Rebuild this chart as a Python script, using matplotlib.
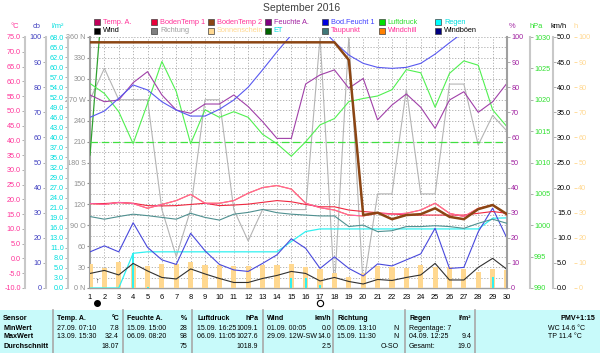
import numpy as np
import matplotlib
matplotlib.use('Agg')
import matplotlib.pyplot as plt
from matplotlib.patches import Rectangle
from matplotlib.lines import Line2D
from matplotlib.transforms import blended_transform_factory

plt.rcParams['font.family'] = ['Liberation Sans', 'DejaVu Sans']

# ---- data (daily values, September 2016) ----
days = list(range(1, 31))

temp_a = [18.6, 18.3, 19.0, 18.6, 17.0, 18.3, 19.6, 21.7, 18.7, 18.7, 19.6, 22.1, 24.0, 24.7, 23.5,
          18.7, 17.2, 16.4, 14.7, 14.4, 15.3, 15.0, 15.3, 16.4, 18.7, 15.3, 14.2, 17.0, 18.1, 14.7]
windchill = [18.6, 18.3, 19.0, 18.6, 17.0, 18.3, 19.6, 21.7, 18.7, 18.7, 19.6, 22.1, 24.0, 24.7, 23.5,
             18.7, 17.2, 16.4, 14.7, 14.4, 15.3, 15.0, 15.3, 16.4, 18.7, 15.3, 14.2, 17.0, 18.1, 14.7]
boden_temp1 = [18.6, 18.6, 18.9, 18.7, 17.9, 17.8, 17.9, 18.3, 18.7, 17.9, 18.1, 18.4, 19.0, 19.6, 19.2,
               18.3, 17.5, 17.5, 16.4, 15.9, 15.5, 15.1, 14.7, 14.7, 14.7, 14.7, 14.7, 15.3, 15.9, 15.3]
boden_temp2 = [73.2, 73.2, 73.2, 73.2, 73.2, 73.2, 73.2, 73.2, 73.2, 73.2, 73.2, 73.2, 73.2, 73.2, 73.2,
               73.2, 73.2, 73.2, 67.2, 14.7, 15.5, 13.3, 14.7, 15.0, 17.0, 14.1, 13.3, 16.7, 18.1, 15.0]
taupunkt = [14.2, 13.3, 14.2, 15.0, 14.5, 13.9, 13.3, 15.3, 13.9, 13.0, 15.0, 15.6, 16.6, 15.5, 15.0,
            14.7, 14.4, 14.4, 10.8, 11.3, 9.1, 9.4, 10.8, 10.8, 11.1, 10.8, 10.2, 11.9, 13.3, 11.9]
feuchte_a = [76.9, 74.2, 74.9, 81.8, 86.2, 76.9, 70.9, 69.6, 73.3, 73.3, 76.9, 72.3, 66.3, 59.6, 59.6,
             81.3, 84.9, 86.9, 79.6, 83.5, 67.0, 72.9, 77.3, 72.0, 63.6, 74.9, 78.2, 70.0, 74.2, 81.6]
bod_feucht1 = [68.0, 70.5, 75.6, 80.9, 78.9, 74.2, 70.9, 68.5, 68.5, 71.2, 74.9, 80.0, 86.9, 94.1, 100.8,
               105.0, 104.0, 98.0, 92.8, 89.5, 87.9, 87.5, 87.9, 89.5, 93.2, 97.7, 102.0, 107.0, 111.0, 114.0]
luftdruck = [1022.6, 1021.0, 1018.1, 1013.0, 1019.4, 1026.1, 1021.3, 1013.0, 1018.4, 1017.2,
             1018.1, 1017.2, 1014.5, 1013.0, 1011.0, 1013.3, 1016.0, 1017.0, 1019.7, 1020.2,
             1020.6, 1021.6, 1024.8, 1024.3, 1018.8, 1024.2, 1026.2, 1025.5, 1018.4, 1015.7]
normaldruck = 1013.25
wind = [2.9, 3.5, 2.6, 4.9, 3.4, 2.1, 1.8, 3.8, 2.8, 1.9, 1.1, 1.1, 1.9, 2.5, 3.3,
        2.9, 1.4, 2.1, 1.3, 0.8, 1.7, 1.5, 2.1, 2.6, 4.9, 1.6, 1.6, 4.1, 5.9, 3.7]
windboeen = [7.2, 8.4, 7.2, 13.0, 8.1, 5.6, 4.7, 10.9, 7.4, 4.7, 3.6, 3.3, 4.9, 6.6, 9.8,
             7.9, 3.9, 6.2, 3.9, 2.4, 4.8, 4.4, 5.6, 6.8, 11.9, 3.9, 4.1, 11.2, 15.9, 9.9]
richtung = [270, 315, 270, 270, 270, 112.5, 45, 112.5, 270, 270, 112.5, 67.5, 112.5, 112.5, 112.5,
            112.5, 360, 0, 360, 0, 135, 135, 285, 135, 135, 292.5, 292.5, 205, 247.5, 225]
sonne = [9.7, 8.1, 10.4, 9.0, 8.6, 9.4, 9.4, 10.4, 9.0, 9.0, 8.6, 8.6, 9.0, 9.0, 9.4,
         8.4, 7.7, 6.0, 4.4, 6.0, 8.6, 8.4, 8.1, 9.0, 8.4, 8.4, 7.7, 6.4, 7.4, 7.3]
regen_tag = [0, 0, 0, 9.4, 0.4, 0, 0, 0, 0, 0, 0, 0, 0, 0, 2.8,
             2.7, 0.7, 0, 0, 0, 0, 0, 0, 0, 0, 0, 0, 0, 2.9, 0.1]
regen_summe = [0, 0, 0, 9.4, 9.8, 9.8, 9.8, 9.8, 9.8, 9.8, 9.8, 9.8, 9.8, 9.8, 12.6,
               15.3, 16.0, 16.0, 16.0, 16.0, 16.0, 16.0, 16.0, 16.0, 16.0, 16.0, 16.0, 16.0, 18.9, 19.0]
et_days = [1, 2]
et = [36.0, 85.0]

regen_ticklabels = ['0.0', '3.0', '5.0', '8.0', '11.0', '13.0', '16.0', '19.0', '21.0', '24.0', '27.0',
                    '29.0', '32.0', '35.0', '37.0', '40.0', '43.0', '46.0', '49.0', '52.0', '54.0',
                    '57.0', '60.0', '62.0', '65.0', '68.0']
dir_labels = {0: '0 N', 30: '30', 60: '60', 90: '90 O', 120: '120', 150: '150', 180: '180 S',
              210: '210', 240: '240', 270: '270 W', 300: '300', 330: '330', 360: '360 N'}

legend_row1 = [('Temp. A.', '#c0005a', '#ff3399'), ('BodenTemp 1', '#e8003a', '#ff3399'),
               ('BodenTemp 2', '#8b4513', '#ff3399'), ('Feuchte A.', '#800080', '#a020a0'),
               ('Bod.Feucht 1', '#0000e0', '#4040ff'), ('Luftdruck', '#00e000', '#30e030'),
               ('Regen', '#00ffff', '#00dede')]
legend_row2 = [('Wind', '#000000', '#000000'), ('Richtung', '#808080', '#a0a0a0'),
               ('Sonnenschein', '#ffd890', '#ffd890'), ('ET', '#006400', '#00dede'),
               ('Taupunkt', '#407878', '#ff3399'), ('Windchill', '#ff8000', '#ff3399'),
               ('Windböen', '#000080', '#000000')]

W, H = 600, 353
fig = plt.figure(figsize=(6, 3.53), dpi=100)


def fx(px):
    return px / W


def fy(py):
    return 1 - py / H


def ftext(x, y, s, color='black', ha='left', size=5.4, bold=False):
    fig.text(fx(x), fy(y), s, color=color, ha=ha, va='center', fontsize=size,
             fontweight='bold' if bold else 'normal')


ax = fig.add_axes([fx(90), fy(288), fx(507) - fx(90), fy(37) - fy(288)])
ax.set_xlim(1, 30)
ax.set_ylim(0, 360)
ax.patch.set_visible(False)
ax.set_xticks(days)
ax.set_xticklabels([str(d) for d in days])
ax.set_yticks(list(dir_labels.keys()))
ax.set_yticklabels(list(dir_labels.values()))
ax.set_yticks(np.arange(0, 361, 15), minor=True)
ax.grid(which='both', color='#a8a8a8', linestyle=(0, (1.5, 2)), linewidth=0.6)
ax.tick_params(axis='x', length=0, pad=4, labelsize=5.4)
ax.tick_params(axis='y', which='major', length=2, pad=1, labelsize=5.2, colors='#909090')
ax.tick_params(axis='y', which='minor', length=0)
for s in ['top', 'right']:
    ax.spines[s].set_visible(False)
ax.spines['left'].set_color('#a0a0a0')
ax.spines['left'].set_linewidth(1.5)
ax.spines['bottom'].set_color('#a0a0a0')
ax.spines['bottom'].set_linewidth(1.0)
ax.plot(days, richtung, color='#b4b4b4', lw=0.8)


def side_axis(pos, side, lim, color, spine=True):
    a = ax.twinx()
    a.set_ylim(*lim)
    a.patch.set_visible(False)
    for s in a.spines.values():
        s.set_visible(False)
    a.spines[side].set_visible(spine)
    a.spines[side].set_position(('axes', pos))
    a.spines[side].set_color('#c8c8c8')
    a.spines[side].set_linewidth(1.5)
    a.yaxis.set_ticks_position(side)
    a.yaxis.set_label_position(side)
    a.tick_params(axis='y', color='#a0a0a0', labelcolor=color, labelsize=5.2,
                  length=2, width=0.6, pad=1)
    return a


# sunshine (h)
ax_h = side_axis(1.161, 'right', (0, 100), '#ffd890', spine=False)
ax_h.set_yticks(range(0, 101, 10))
ax_h.tick_params(axis='y', color='#ffd890')
ax_h.bar(days, sonne, width=0.36, color='#ffd890')

# rain (l/m²)
ax_r = side_axis(-0.0528, 'left', (0, 68), '#00dede')
ax_r.set_yticks(np.linspace(0, 68, 26))
ax_r.set_yticklabels(regen_ticklabels)
ax_r.bar(days, regen_tag, width=0.14, color='#30f0f0')
ax_r.plot(days, regen_summe, color='#30f0f0', lw=0.9)
ax_r.plot(et_days, et, color='#30a030', lw=0.9)

# wind (km/h)
ax_k = side_axis(1.110, 'right', (0, 50), 'black')
ax_k.set_yticks(np.arange(0, 51, 5))
ax_k.set_yticklabels([f'{v:.1f}' for v in np.arange(0, 51, 5)])
ax_k.plot(days, wind, color='#303030', lw=0.8)
ax_k.plot(days, windboeen, color='#4848dc', lw=0.8)

# pressure (hPa)
ax_p = side_axis(1.055, 'right', (990, 1030), '#30e030')
ax_p.set_yticks(range(990, 1031, 5))
ax_p.axhline(normaldruck, color='#40e040', lw=0.9, linestyle=(0, (6, 3)))
ax_p.plot(days, luftdruck, color='#50f050', lw=0.8)

# humidity (%)
ax_f = side_axis(1.0, 'right', (0, 100), '#a020a0')
ax_f.spines['right'].set_color('#a0a0a0')
ax_f.set_yticks(range(0, 101, 10))
ax_f.plot(days, feuchte_a, color='#a040a8', lw=0.8)

# soil moisture (cb)
ax_cb = side_axis(-0.1055, 'left', (0, 100), '#4040c0')
ax_cb.set_yticks(range(0, 101, 10))
ax_cb.plot(days, bod_feucht1, color='#5858f0', lw=0.8)

# temperatures (°C)
ax_c = side_axis(-0.156, 'left', (-10, 75), '#ff3399')
ax_c.set_yticks(np.arange(-10, 76, 5))
ax_c.set_yticklabels([f'{v:.1f}' for v in np.arange(-10, 76, 5)])
ax_c.plot(days, taupunkt, color='#4f9090', lw=0.8)
ax_c.plot(days, windchill, color='#ff8000', lw=0.8)
ax_c.plot(days, boden_temp1, color='#f02840', lw=0.8)
ax_c.plot(days, temp_a, color='#ff60a8', lw=0.8)
ax_c.plot(days, boden_temp2, color='#8b4513', lw=1.8)

# moon phase marks below the axis
tr = blended_transform_factory(ax.transData, ax.transAxes)
ax.plot([1.49], [-0.06], 'o', color='black', ms=4, transform=tr, clip_on=False)
ax.plot([17.0], [-0.06], 'o', mfc='white', mec='black', mew=0.8, ms=4.5, transform=tr, clip_on=False)
ax.text(1.45, 0.012, '↑', transform=tr, fontsize=5, ha='center', va='bottom')
ax.text(17.0, 0.012, '↑', transform=tr, fontsize=5, ha='center', va='bottom')

# title, axis unit labels
ftext(302, 8, 'September 2016', color='#404040', ha='center', size=7.5)
ftext(15, 27, '°C', color='#ff3399', ha='center')
ftext(37, 27, 'cb', color='#4040c0', ha='center')
ftext(58, 27, 'l/m²', color='#00dede', ha='center')
ftext(512, 27, '%', color='#a020a0', ha='center')
ftext(536, 27, 'hPa', color='#30e030', ha='center')
ftext(559, 27, 'km/h', color='black', ha='center')
ftext(576, 27, 'h', color='#ffd890', ha='center')

# legend
for row, y in [(legend_row1, 22), (legend_row2, 31)]:
    for i, (name, sq, tc) in enumerate(row):
        x = 97 + i * 56.9
        fig.patches.append(Rectangle((fx(x - 3), fy(y + 3)), 6 / W, 6 / H, transform=fig.transFigure,
                                     facecolor=sq, edgecolor='#404040', lw=0.5))
        ftext(x + 6, y, name, color=tc, size=5.3)

# statistics table
fig.patches.append(Rectangle((0, 0), 1, fy(310), transform=fig.transFigure,
                             facecolor='#c8fafa', edgecolor='none'))
for sx in [53, 123, 192, 263, 333, 405, 475]:
    fig.add_artist(Line2D([fx(sx), fx(sx)], [0, fy(310)], transform=fig.transFigure,
                          color='#a8a8a8', lw=1.2))

rows_y = [318, 328, 337, 347]
for y, s in zip(rows_y, ['Sensor', 'MinWert', 'MaxWert', 'Durchschnitt']):
    ftext(3, y, s, bold=True, size=5.2)

cols = [
    (57, 119, ['Temp. A.', '27.09. 07:10', '13.09. 15:30', ''], ['°C', '7.8', '32.4', '18.07']),
    (127, 187, ['Feuchte A.', '15.09. 15:00', '06.09. 08:20', ''], ['%', '28', '98', '75']),
    (197, 258, ['Luftdruck', '15.09. 16:25', '06.09. 11:05', ''], ['hPa', '1009.1', '1027.6', '1018.9']),
    (267, 331, ['Wind', '01.09. 00:05', '29.09. 12W-SW', ''], ['km/h', '0.0', '14.0', '2.5']),
    (337, 399, ['Richtung', '05.09. 13:10', '15.09. 11:30', ''], ['', 'N', 'N', 'O-SO']),
    (409, 471, ['Regen', 'Regentage: 7', '04.09. 12:25', 'Gesamt:'], ['l/m²', '', '9.4', '19.0']),
]
for xl, xr, left, right in cols:
    for k, y in enumerate(rows_y):
        ftext(xl, y, left[k], bold=(k == 0), size=5.0)
        ftext(xr, y, right[k], ha='right', bold=(k == 0), size=5.0)

ftext(595, 318, 'PMV+1:15', ha='right', bold=True, size=5.2)
ftext(548, 328, 'WC 14.6 °C', size=5.0)
ftext(548, 337, 'TP 11.4 °C', size=5.0)

fig.savefig('out.png', dpi=100)
